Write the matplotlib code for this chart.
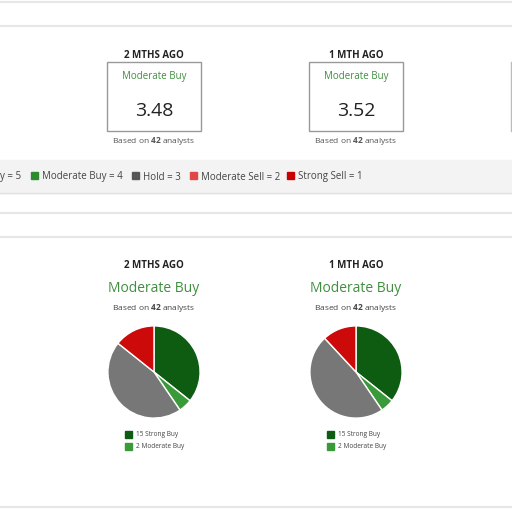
import matplotlib.pyplot as plt
from matplotlib.patches import Rectangle

plt.rcParams['font.family'] = ['Open Sans', 'DejaVu Sans']
plt.rcParams['mathtext.fontset'] = 'custom'
plt.rcParams['mathtext.rm'] = 'Open Sans'
plt.rcParams['mathtext.bf'] = 'Open Sans:bold'

# data
periods = ['2 MTHS AGO', '1 MTH AGO']
consensus = ['Moderate Buy', 'Moderate Buy']
scores = [3.48, 3.52]
n_analysts = [42, 42]
rating_names = ['Strong Buy', 'Moderate Buy', 'Hold', 'Moderate Sell', 'Strong Sell']
rating_values = [5, 4, 3, 2, 1]
counts_2m = [15, 2, 19, 0, 6]
counts_1m = [15, 2, 20, 0, 5]
counts = [counts_2m, counts_1m]

rating_colors = ['#0d5c12', '#3a9a3a', '#777777', '#e04040', '#cc0a0a']
key_colors = ['#1e7a1e', '#2e8a2e', '#555555', '#e04848', '#c80000']
green_text = '#3f8f3f'

W = H = 512
fig = plt.figure(figsize=(5.12, 5.12), dpi=100)
ax = fig.add_axes([0, 0, 1, 1])
ax.set_xlim(0, W)
ax.set_ylim(H, 0)
ax.axis('off')

# page separators
for y in [2, 26, 213, 237, 507]:
    ax.plot([0, W], [y, y], color='#e6e6e6', lw=1.5)

# legend strip
ax.add_patch(Rectangle((0, 160), W, 33, color='#f3f3f3', zorder=0))
ax.plot([0, W], [193, 193], color='#e0e0e0', lw=1)
ax.text(0, 177, 'y = 5', fontsize=7, va='center', color='#444444')
kx = [31, 132, 190, 287]
for i, x in enumerate(kx):
    j = i + 1
    ax.add_patch(Rectangle((x, 172), 7, 7, color=key_colors[j]))
    ax.text(x + 11, 177, f'{rating_names[j]} = {rating_values[j]}',
            fontsize=7, va='center', color='#444444')

# right partial card edge
ax.plot([511, 511], [62, 131], color='#bbbbbb', lw=1)

cx = [154, 356]
for k in range(2):
    c = cx[k]
    # top cards
    ax.text(c, 55, periods[k], fontsize=7, fontweight='bold', ha='center',
            va='center', color='#222222')
    ax.add_patch(Rectangle((c - 47, 62), 94, 69, fill=False,
                           ec='#999999', lw=1))
    ax.text(c, 77, consensus[k], fontsize=7, ha='center', va='center',
            color=green_text)
    ax.text(c, 111, f'{scores[k]:.2f}', fontsize=14, ha='center',
            va='center', color='#222222')
    ax.text(c, 141, f'Based on $\\bf{{{n_analysts[k]}}}$ analysts',
            fontsize=6, ha='center', va='center', color='#555555')

    # lower pie cards
    ax.text(c, 265, periods[k], fontsize=7, fontweight='bold', ha='center',
            va='center', color='#222222')
    ax.text(c, 289, consensus[k], fontsize=10, ha='center', va='center',
            color=green_text)
    ax.text(c, 308, f'Based on $\\bf{{{n_analysts[k]}}}$ analysts',
            fontsize=6, ha='center', va='center', color='#444444')

    vals = [v for v in counts[k] if v > 0]
    cols = [rating_colors[i] for i, v in enumerate(counts[k]) if v > 0]
    r = 47
    pax = fig.add_axes([(c - r) / W, 1 - (372 + r) / H, 2 * r / W, 2 * r / H])
    pax.pie(vals, colors=cols, startangle=90, counterclock=False,
            wedgeprops=dict(edgecolor='white', linewidth=1))
    pax.set_xlim(-1.02, 1.02)
    pax.set_ylim(-1.02, 1.02)
    pax.set_aspect('equal')

    for i, y in enumerate([434, 446]):
        ax.add_patch(Rectangle((c - 29, y - 3.5), 7, 7, color=rating_colors[i]))
        ax.text(c - 18, y, f'{counts[k][i]} {rating_names[i]}', fontsize=4.7,
                va='center', color='#444444')

fig.savefig('out.png', dpi=100)
